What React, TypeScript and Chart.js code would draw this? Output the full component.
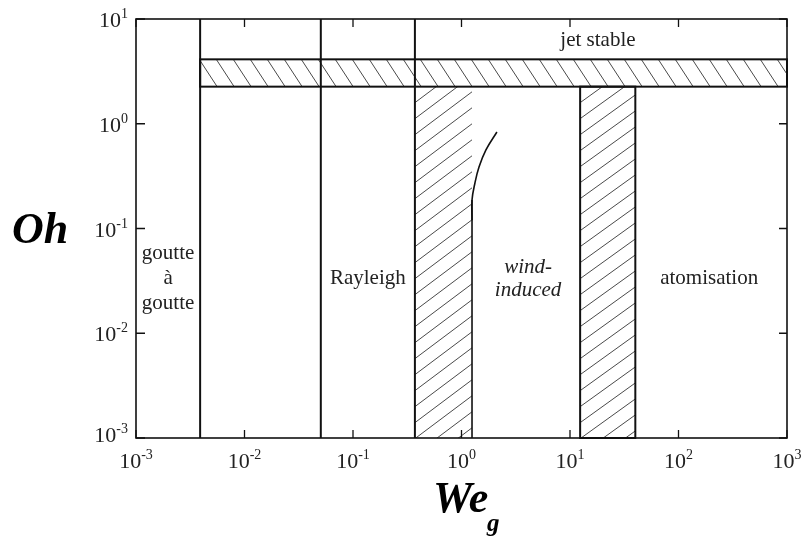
import React, { useEffect, useRef } from "react";
import { Chart, registerables } from "chart.js";
Chart.register(...registerables);

// ---- data ----
const weTicks = [1e-3, 1e-2, 1e-1, 1e0, 1e1, 1e2, 1e3];
const weTickExp = ["-3", "-2", "-1", "0", "1", "2", "3"];
const ohTicks = [1e-3, 1e-2, 1e-1, 1e0, 1e1];
const ohTickExp = ["-3", "-2", "-1", "0", "1"];
const regimeBoundsWe = [0.0039, 0.0505, 0.372];
const bandOh = [2.26, 4.12];
const bandWe = [0.0039, 1000];
const transition1We = [0.372, 1.25];
const transition2We = [12.4, 40];
const edgeWe = [1.25, 1.25];
const edgeOh = [0.001, 0.187];
const curveWe = [1.25, 1.25, 1.33, 1.45, 1.68, 2.12];
const curveOh = [0.12, 0.187, 0.272, 0.386, 0.562, 0.834];
const regimeLabels = ["goutte\nà\ngoutte", "Rayleigh", "wind-\ninduced", "atomisation"];
const stableLabel = "jet stable";

const SERIF = '"Liberation Serif", "Times New Roman", serif';

function hatchSlash(ctx: CanvasRenderingContext2D, x0: number, y0: number, x1: number, y1: number, slope: number, gap: number) {
  ctx.save();
  ctx.beginPath();
  ctx.rect(x0, y0, x1 - x0, y1 - y0);
  ctx.clip();
  ctx.strokeStyle = "#4a4a4a";
  ctx.lineWidth = 1;
  ctx.beginPath();
  const cMax = y1 + slope * (x1 - x0);
  for (let c = y0; c <= cMax + gap; c += gap) {
    ctx.moveTo(x0, c);
    ctx.lineTo(x1, c - slope * (x1 - x0));
  }
  ctx.stroke();
  ctx.restore();
}

function hatchBack(ctx: CanvasRenderingContext2D, x0: number, y0: number, x1: number, y1: number, slope: number, gap: number) {
  ctx.save();
  ctx.beginPath();
  ctx.rect(x0, y0, x1 - x0, y1 - y0);
  ctx.clip();
  ctx.strokeStyle = "#4a4a4a";
  ctx.lineWidth = 1;
  ctx.beginPath();
  const h = y1 - y0;
  for (let xs = x0 - h / slope - gap; xs <= x1 + gap; xs += gap) {
    ctx.moveTo(xs, y0);
    ctx.lineTo(xs + h / slope, y1);
  }
  ctx.stroke();
  ctx.restore();
}

const regimePlugin = {
  id: "regimes",
  beforeDatasetsDraw(chart: any) {
    const { ctx } = chart;
    const x = chart.scales.x;
    const y = chart.scales.y;
    const yBottom = y.getPixelForValue(y.min);
    const bandTop = y.getPixelForValue(bandOh[1]);
    const bandBot = y.getPixelForValue(bandOh[0]);
    const bx0 = x.getPixelForValue(bandWe[0]);
    const bx1 = x.getPixelForValue(bandWe[1]);
    hatchBack(ctx, bx0, bandTop, bx1, bandBot, 1.53, 17);
    const t1a = x.getPixelForValue(transition1We[0]);
    const t1b = x.getPixelForValue(transition1We[1]);
    hatchSlash(ctx, t1a, bandBot, t1b, yBottom, 0.75, 16);
    const t2a = x.getPixelForValue(transition2We[0]);
    const t2b = x.getPixelForValue(transition2We[1]);
    hatchSlash(ctx, t2a, bandBot, t2b, yBottom, 0.72, 16);

    ctx.save();
    ctx.strokeStyle = "#111";
    ctx.lineWidth = 2;
    ctx.strokeRect(bx0, bandTop, bx1 - bx0, bandBot - bandTop);
    ctx.strokeRect(t2a, bandBot, t2b - t2a, yBottom - bandBot);
    ctx.restore();
  },
  afterDraw(chart: any) {
    const { ctx, chartArea } = chart;
    const x = chart.scales.x;
    const y = chart.scales.y;
    const { left, right, top, bottom } = chartArea;
    ctx.save();
    ctx.strokeStyle = "#111";
    ctx.lineWidth = 1.6;
    ctx.strokeRect(left, top, right - left, bottom - top);
    ctx.lineWidth = 1.3;
    ctx.beginPath();
    weTicks.forEach((v) => {
      const px = x.getPixelForValue(v);
      ctx.moveTo(px, bottom);
      ctx.lineTo(px, bottom - 8);
      ctx.moveTo(px, top);
      ctx.lineTo(px, top + 8);
    });
    ohTicks.forEach((v) => {
      const py = y.getPixelForValue(v);
      ctx.moveTo(left, py);
      ctx.lineTo(left + 9, py);
      ctx.moveTo(right, py);
      ctx.lineTo(right - 8, py);
    });
    ctx.stroke();

    ctx.fillStyle = "#222";
    ctx.textBaseline = "alphabetic";
    weTicks.forEach((v, i) => {
      const px = x.getPixelForValue(v);
      ctx.font = `22px ${SERIF}`;
      const wb = ctx.measureText("10").width;
      ctx.font = `14px ${SERIF}`;
      const we = ctx.measureText(weTickExp[i]).width;
      const start = px - (wb + we) / 2;
      ctx.font = `22px ${SERIF}`;
      ctx.textAlign = "left";
      ctx.fillText("10", start, bottom + 30);
      ctx.font = `14px ${SERIF}`;
      ctx.fillText(weTickExp[i], start + wb, bottom + 21);
    });
    ohTicks.forEach((v, i) => {
      const py = y.getPixelForValue(v);
      const shift = i === 0 ? -4 : 0;
      ctx.font = `14px ${SERIF}`;
      const we = ctx.measureText(ohTickExp[i]).width;
      const endX = left - 8;
      ctx.textAlign = "right";
      ctx.fillText(ohTickExp[i], endX, py - 1 + shift);
      ctx.font = `22px ${SERIF}`;
      ctx.fillText("10", endX - we, py + 8 + shift);
    });

    ctx.fillStyle = "#000";
    ctx.textAlign = "left";
    ctx.font = `bold italic 44px ${SERIF}`;
    ctx.fillText("Oh", 12, 243);
    ctx.fillText("We", 433, 512);
    ctx.font = `bold italic 25px ${SERIF}`;
    ctx.fillText("g", 487, 531);

    ctx.fillStyle = "#222";
    ctx.textAlign = "center";
    ctx.textBaseline = "middle";
    const midY = y.getPixelForValue(0.033);
    const xs = [
      (left + x.getPixelForValue(regimeBoundsWe[0])) / 2,
      (x.getPixelForValue(regimeBoundsWe[1]) + x.getPixelForValue(regimeBoundsWe[2])) / 2,
      (x.getPixelForValue(transition1We[1]) + x.getPixelForValue(transition2We[0])) / 2 + 2,
      (x.getPixelForValue(transition2We[1]) + right) / 2 - 2,
    ];
    regimeLabels.forEach((lab, i) => {
      const lines = lab.split("\n");
      const lh = i === 0 ? 25 : 23;
      ctx.font = i === 2 ? `italic 21px ${SERIF}` : `21px ${SERIF}`;
      lines.forEach((ln, j) => {
        ctx.fillText(ln, xs[i], midY + (j - (lines.length - 1) / 2) * lh);
      });
    });
    ctx.font = `21px ${SERIF}`;
    const jx = (x.getPixelForValue(regimeBoundsWe[2]) + right) / 2 - 3;
    const jy = (top + y.getPixelForValue(bandOh[1])) / 2 + 1;
    ctx.fillText(stableLabel, jx, jy);
    ctx.restore();
  },
};

export default function App() {
  const ref = useRef<HTMLCanvasElement>(null);
  useEffect(() => {
    if (!ref.current) return;
    const lineDs = (xs: number[], ys: number[], w: number, tension = 0) => ({
      data: xs.map((v, i) => ({ x: v, y: ys[i] })),
      showLine: true,
      borderColor: "#111",
      borderWidth: w,
      pointRadius: 0,
      tension,
      fill: false,
    });
    const datasets: any[] = regimeBoundsWe.map((b) => lineDs([b, b], [1e-3, 10], 2));
    datasets.push(lineDs(edgeWe, edgeOh, 1.6));
    datasets.push(lineDs(curveWe, curveOh, 1.6, 0.4));
    const chart = new Chart(ref.current, {
      type: "scatter",
      data: { datasets },
      options: {
        responsive: false,
        animation: false,
        layout: { padding: { left: 136, top: 19, right: 21, bottom: 99 } },
        plugins: { legend: { display: false }, tooltip: { enabled: false } },
        scales: {
          x: { type: "logarithmic", min: 1e-3, max: 1e3, display: false },
          y: { type: "logarithmic", min: 1e-3, max: 10, display: false },
        },
      },
      plugins: [regimePlugin],
    } as any);
    return () => chart.destroy();
  }, []);
  return (
    <canvas
      ref={ref}
      width={808}
      height={537}
      style={{ position: "fixed", left: 0, top: 0, background: "#fff" }}
    />
  );
}
